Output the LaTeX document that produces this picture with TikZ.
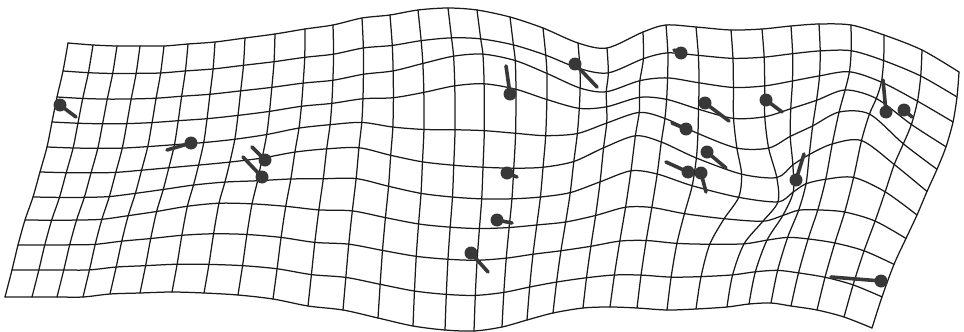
\documentclass[tikz,border=0pt]{standalone}
\usepackage{xcolor}
\definecolor{gridink}{HTML}{1A1A1A}
\definecolor{landmark}{HTML}{383838}
\usepackage{tikz}

% one smooth lift of the rows: centre x, centre row, width x, width rows, amount
\newcommand\gbump[5]{#5*exp(max(-9,-(((\gx-#1)/#3)^2+((\j-#2)/#4)^2)))}

\begin{document}
\begin{tikzpicture}[
  x=1pt, y=-1pt,
  gridline/.style={draw=gridink, line width=1.25pt, line join=round, line cap=round},
  lmk/.style={circle, fill=landmark, inner sep=0pt, minimum size=13pt},
  stick/.style={draw=landmark, line width=3.6pt, line cap=round}
]
\useasboundingbox (0,0) rectangle (964,332);

% Grid nodes: Coons patch between the four border curves, plus row lifts
\foreach \tx/\ty/\bx/\by [count=\i from 0] in {
  68/43/5/297, 93/45/32/297, 117/46/57/297, 140/46/83/297, 164/46/110/294,
  188/44/140/293, 215/42/172/292, 245/38/204/293, 275/34/238/295, 305/29/273/299,
  333/25/308/306, 362/18/343/310, 390/15/378/318, 418/10/413/326, 448/8/445/330,
  477/10/474/331, 510/17/502/327, 543/28/527/320, 578/43/553/313, 607/48/583/308,
  643/32/610/307, 666/25/637/308, 696/27/667/310, 731/30/696/309, 762/29/727/307,
  791/26/749/304, 819/24/771/303, 851/25/791/306, 884/35/817/310, 922/50/844/317,
  959/72/872/328}{
  \foreach \lx/\ly/\rx/\ry [count=\j from 0] in {
    68/43/959/72, 63/71/957/97, 57/97/953/122, 52/122/946/147, 47/147/937/170,
    40/172/927/193, 33/197/917/217, 25/220/906/240, 18/245/894/265, 12/270/882/297,
    5/297/872/328}{
    \pgfmathsetmacro\gs{\i/30}
    \pgfmathsetmacro\gt{\j/10}
    \pgfmathsetmacro\gx{(1-\gt)*\tx+\gt*\bx+(1-\gs)*\lx+\gs*\rx
      -(1-\gs)*(1-\gt)*68-\gs*(1-\gt)*959-(1-\gs)*\gt*5-\gs*\gt*872}
    \pgfmathsetmacro\gy{(1-\gt)*\ty+\gt*\by+(1-\gs)*\ly+\gs*\ry
      -(1-\gs)*(1-\gt)*43-\gs*(1-\gt)*72-(1-\gs)*\gt*297-\gs*\gt*328}
    \pgfmathsetmacro\gy{\gy+sin(18*\j)*(\gbump{340}{5}{70}{2.5}{-16}
      +\gbump{490}{2.3}{80}{1.3}{-38}+\gbump{625}{4.5}{55}{2.5}{-32}
      +\gbump{745}{5}{35}{2.5}{16}+\gbump{860}{4}{40}{2.5}{-30}
      +\gbump{220}{7}{70}{1.5}{-12})}
    \pgfmathsetmacro\gx{\gx+sin(18*\j)*(\gbump{745}{6}{45}{2}{30}
      +\gbump{630}{2}{30}{1.2}{-10})}
    \coordinate (g-\i-\j) at (\gx,\gy);
  }
}

% Rows and columns, as smooth curves through the grid nodes
\foreach \j in {0,...,10}{
  \xdef\gpts{}
  \foreach \i in {0,...,30}{\xdef\gpts{\gpts (g-\i-\j)}}
  \edef\gline{\noexpand\draw[gridline] plot[smooth, tension=0.5] coordinates {\gpts};}
  \gline
}
\foreach \i in {0,...,30}{
  \xdef\gpts{}
  \foreach \j in {0,...,10}{\xdef\gpts{\gpts (g-\i-\j)}}
  \edef\gline{\noexpand\draw[gridline] plot[smooth, tension=0.5] coordinates {\gpts};}
  \gline
}

% Landmarks and their displacement sticks
\foreach \n/\lmx/\lmy/\tgx/\tgy in {
  1/60/105/76/117, 2/191/143/167/150, 3/265/160/252/147, 4/262/177/243/157,
  5/510/94/506/66, 6/575/64/597/87, 7/507/173/517/177, 8/497/220/512/223,
  9/471/253/488/272, 10/681/53/674/50, 11/705/103/729/121, 12/766/100/782/112,
  13/686/129/672/123, 14/707/152/726/168, 15/688/172/666/162, 16/701/173/706/192,
  17/796/180/804/154, 18/886/112/883/80, 19/904/110/912/117, 20/881/281/831/277}{
  \node[lmk] (m\n) at (\lmx,\lmy) {};
  \coordinate (t\n) at (\tgx,\tgy);
  \draw[stick] (m\n.center) -- (t\n);
}
\end{tikzpicture}
\end{document}
